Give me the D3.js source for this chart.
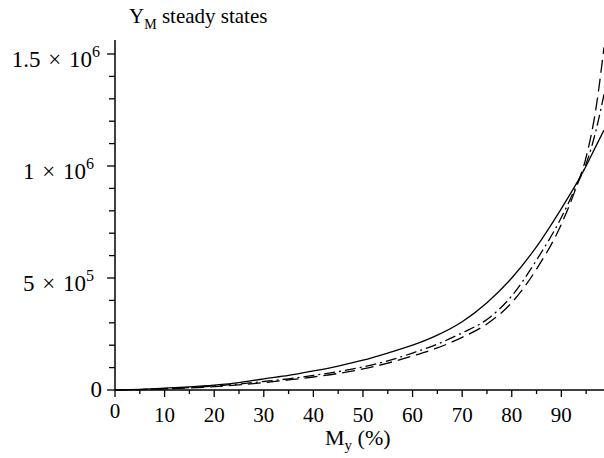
<!DOCTYPE html>
<html>
<head>
<meta charset="UTF-8">
<script src="https://d3js.org/d3.v7.min.js"></script>
<style>
  body { margin: 0; background: #fff; }
  text { font-family: "Liberation Serif", "Times New Roman", serif; fill: #000; }
</style>
</head>
<body>
<svg width="604" height="458"></svg>
<script>
// M_y (%) sample points
const myPct = [0, 5, 10, 15, 20, 25, 30, 35, 40, 45, 50, 55, 60, 65, 70, 75, 80, 85, 90, 93, 95, 97, 98.6];
// Y_M steady states, three runs (values in units of 1e5)
const solid   = [0, 0.03, 0.08, 0.14, 0.22, 0.33, 0.50, 0.65, 0.85, 1.07, 1.33, 1.65, 2.00, 2.45, 3.05, 3.90, 5.00, 6.40, 8.10, 9.20, 10.0, 10.9, 11.6];
const dashDot = [0, 0.02, 0.06, 0.11, 0.18, 0.27, 0.38, 0.50, 0.65, 0.82, 1.03, 1.30, 1.65, 2.05, 2.55, 3.15, 4.20, 5.80, 7.70, 9.10, 10.1, 11.6, 13.2];
const dashed  = [0, 0.02, 0.05, 0.09, 0.15, 0.23, 0.33, 0.45, 0.58, 0.74, 0.94, 1.20, 1.52, 1.88, 2.35, 2.95, 3.90, 5.40, 7.40, 9.05, 10.4, 12.6, 15.3];

const xMajor = [0, 10, 20, 30, 40, 50, 60, 70, 80, 90];
const xMinor = [5, 15, 25, 35, 45, 55, 65, 75, 85, 95];
const yMajor = [0, 5e5, 1e6, 1.5e6];
const yMajorLabels = [["0", ""], ["5 \u00d7 10", "5"], ["1 \u00d7 10", "6"], ["1.5 \u00d7 10", "6"]];
const yMinor = [1e5, 2e5, 3e5, 4e5, 6e5, 7e5, 8e5, 9e5, 1.1e6, 1.2e6, 1.3e6, 1.4e6];

const svg = d3.select("svg");
const x = d3.scaleLinear().domain([0, 98.6]).range([115, 604]);
const y = d3.scaleLinear().domain([0, 1.5625e6]).range([390, 40]);

// axes lines
svg.append("line").attr("x1", x(0)).attr("x2", 604).attr("y1", y(0)).attr("y2", y(0))
   .attr("stroke", "#000").attr("stroke-width", 1.5);
svg.append("line").attr("x1", x(0)).attr("x2", x(0)).attr("y1", y(0)).attr("y2", 40)
   .attr("stroke", "#000").attr("stroke-width", 1.5);

// x ticks
svg.selectAll(".xmaj").data(xMajor).enter().append("line")
   .attr("x1", d => x(d)).attr("x2", d => x(d)).attr("y1", y(0)).attr("y2", y(0) + 7)
   .attr("stroke", "#000").attr("stroke-width", 1.3);
svg.selectAll(".xmin").data(xMinor).enter().append("line")
   .attr("x1", d => x(d)).attr("x2", d => x(d)).attr("y1", y(0)).attr("y2", y(0) + 4)
   .attr("stroke", "#000").attr("stroke-width", 1.3);
svg.selectAll(".xlab").data(xMajor).enter().append("text")
   .attr("x", d => x(d)).attr("y", d => d === 0 ? 418 : 422).attr("text-anchor", "middle")
   .attr("font-size", 21).text(d => d);

// y ticks
svg.selectAll(".ymaj").data(yMajor).enter().append("line")
   .attr("x1", x(0) - 8).attr("x2", x(0)).attr("y1", d => y(d)).attr("y2", d => y(d))
   .attr("stroke", "#000").attr("stroke-width", 1.3);
svg.selectAll(".ymin").data(yMinor).enter().append("line")
   .attr("x1", x(0) - 6).attr("x2", x(0)).attr("y1", d => y(d)).attr("y2", d => y(d))
   .attr("stroke", "#000").attr("stroke-width", 1.3);
const ylab = svg.selectAll(".ylab").data(yMajor).enter().append("text")
   .attr("x", (d, i) => i === 0 ? 102 : (i === 3 ? 100 : 94))
   .attr("y", (d, i) => y(d) + (i === 0 ? 7 : 13))
   .attr("text-anchor", "end").attr("font-size", 23).attr("word-spacing", 2);
ylab.append("tspan").text((d, i) => yMajorLabels[i][0]);
ylab.append("tspan").attr("dy", -10).attr("font-size", 16).text((d, i) => yMajorLabels[i][1]);

// titles
const t = svg.append("text").attr("x", 129).attr("y", 23).attr("font-size", 21);
t.append("tspan").text("Y");
t.append("tspan").attr("dy", 6).attr("font-size", 14).text("M");
t.append("tspan").attr("dy", -6).text(" steady states");

const xl = svg.append("text").attr("x", 325).attr("y", 445).attr("font-size", 22);
xl.append("tspan").text("M");
xl.append("tspan").attr("dy", 5).attr("font-size", 15).text("y");
xl.append("tspan").attr("dy", -5).text(" (%)");

// curves
const line = d3.line().x(d => x(d[0])).y(d => y(d[1] * 1e5)).curve(d3.curveMonotoneX);
const series = [
  { vals: solid, dash: null },
  { vals: dashDot, dash: "11,4,2,4" },
  { vals: dashed, dash: "13,6" }
];
svg.selectAll(".curve").data(series).enter().append("path")
   .attr("d", s => line(myPct.map((m, i) => [m, s.vals[i]])))
   .attr("fill", "none").attr("stroke", "#000").attr("stroke-width", 1.3)
   .attr("stroke-dasharray", s => s.dash);
</script>
</body>
</html>
